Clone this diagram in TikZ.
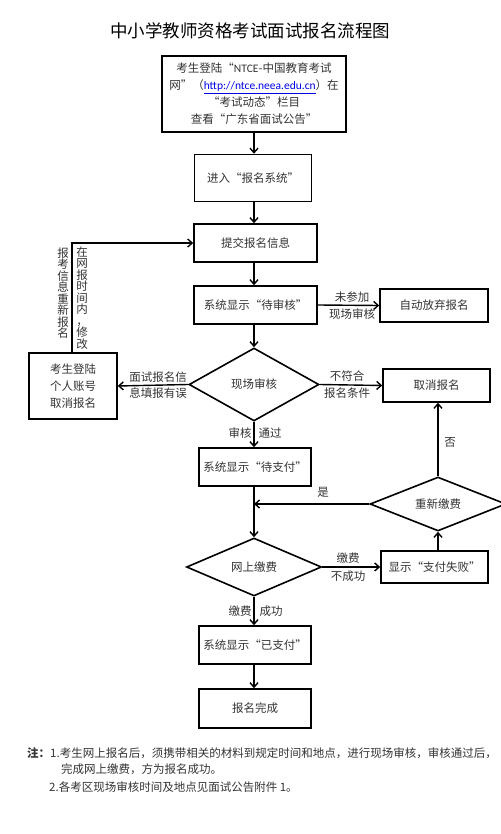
\documentclass[tikz,border=0pt]{standalone}
\usepackage{fontspec}
\setmainfont{Noto Sans CJK SC}
\newfontfamily\latinf{Carlito}
\usetikzlibrary{shapes.geometric,arrows.meta}
\definecolor{txt}{gray}{0.2}
\definecolor{linkblue}{RGB}{0,0,230}
\newcommand\bodyf{\fontsize{11.5}{17}\selectfont}
\newcommand\vertf{\fontsize{11.5}{11.5}\selectfont\lineskiplimit=-20pt\relax}
\begin{document}
\begin{tikzpicture}[x=1pt,y=-1pt,
  box/.style={draw, line width=1.6pt, inner sep=0pt, align=center, font=\bodyf, text=txt},
  dia/.style={draw, diamond, aspect=1.8, line width=1.6pt, inner sep=0pt, font=\bodyf, text=txt},
  arr/.style={line width=1.4pt, -{Straight Barb[length=4.5pt,width=8pt]}},
  lab/.style={inner sep=0pt, font=\bodyf, text=txt, align=center},
  vcol/.style={inner sep=0pt, font=\vertf, text=txt, align=center, text width=12pt}]
\fill[white] (0,0) rectangle (500,834);
\useasboundingbox (0,0) rectangle (500,834);
% title
\node[inner sep=0pt, font=\fontsize{17.5}{20}\selectfont] (title) at (250,31) {中小学教师资格考试面试报名流程图};
% boxes
\node[box, minimum width=184pt, minimum height=76pt] (b1) at (254,94)
  {考生登陆“{\latinf NTCE}-中国教育考试\\
   网”（\textcolor{linkblue}{\underline{\latinf http://ntce.neea.edu.cn}}）在\\
   “考试动态”栏目\\
   查看“广东省面试公告”};
\node[box, minimum width=117pt, minimum height=47pt] (b2) at (253,178) {进入“报名系统”};
\node[box, minimum width=123pt, minimum height=38pt] (b3) at (255.5,243) {提交报名信息};
\node[box, minimum width=123pt, minimum height=38pt] (b4) at (255.5,305) {系统显示“待审核”};
\node[box, minimum width=108pt, minimum height=33pt] (auto) at (434,305.5) {自动放弃报名};
\node[dia, minimum width=130pt, minimum height=73pt] (d1) at (254,384.5) {现场审核};
\node[box, minimum width=88pt, minimum height=66pt] (left) at (73,386) {考生登陆\\个人账号\\取消报名};
\node[box, minimum width=107pt, minimum height=33pt] (cancel) at (436.5,385.5) {取消报名};
\node[box, minimum width=112pt, minimum height=38pt] (wait) at (255,467) {系统显示“待支付”};
\node[dia, minimum width=136pt, minimum height=54pt] (d2) at (438,504) {重新缴费};
\node[dia, minimum width=135pt, minimum height=58pt] (d3) at (254,567) {网上缴费};
\node[box, minimum width=107pt, minimum height=32pt] (fail) at (434.5,567) {显示“支付失败”};
\node[box, minimum width=112pt, minimum height=38pt] (paid) at (255,645) {系统显示“已支付”};
\node[box, minimum width=112pt, minimum height=39pt] (done) at (255,708.5) {报名完成};
% connectors
\coordinate (cx) at (254,0);
\draw[arr] (b1.south -| cx) -- (b2.north -| cx);
\draw[arr] (b2.south -| cx) -- (b3.north -| cx);
\draw[arr] (b3.south -| cx) -- (b4.north -| cx);
\draw[arr] (b4.east) -- (auto.west);
\draw[arr] (b4.south -| d1.north) -- (d1.north);
\draw[arr] (d1.west) -- (left.east);
\draw[arr] (d1.east) -- (cancel.west);
\draw[arr] (d1.south) -- (wait.north -| d1.south);
\coordinate (lx) at (72,0);
\draw[arr] (left.north -| lx) |- (b3.west);
\draw[arr] (wait.south -| d3.north) -- (d3.north);
\coordinate (join) at (d3.north |- d2.west);
\draw[arr] (d2.west) -- (join);
\draw[arr] (d2.north) -- (cancel.south -| d2.north);
\draw[arr] (fail.north -| d2.south) -- (d2.south);
\draw[arr] (d3.east) -- (fail.west);
\draw[arr] (d3.south) -- (paid.north -| d3.south);
\draw[arr] (paid.south -| cx) -- (done.north -| cx);
% labels
\node[lab] (l1a) at (352,297) {未参加};
\node[lab] (l1b) at (352,314) {现场审核};
\node[lab] (l2a) at (158,377) {面试报名信};
\node[lab] (l2b) at (158,393) {息填报有误};
\node[lab] (l3a) at (347,376) {不符合};
\node[lab] (l3b) at (347,393) {报名条件};
\node[lab] (l4a) at (240,433) {审核};
\node[lab] (l4b) at (270,433) {通过};
\node[lab] (l5) at (450,442) {否};
\node[lab] (l6) at (323,492) {是};
\node[lab] (l7a) at (348,558) {缴费};
\node[lab] (l7b) at (348,576) {不成功};
\node[lab] (l8a) at (240,611) {缴费};
\node[lab] (l8b) at (271,611) {成功};
\node[vcol] (v1) at (63,293) {报\\考\\信\\息\\重\\新\\报\\名};
\node[vcol] (v2) at (82,298) {在\\网\\报\\时\\间\\内\\，\\修\\改};
% notes
\node[lab, anchor=west] (n1) at (27,753) {\textbf{注：}1.考生网上报名后，须携带相关的材料到规定时间和地点，进行现场审核，审核通过后，};
\node[lab, anchor=west] (n2) at (61,769) {完成网上缴费，方为报名成功。};
\node[lab, anchor=west] (n3) at (49,787) {2.各考区现场审核时间及地点见面试公告附件 1。};
\end{tikzpicture}
\end{document}
